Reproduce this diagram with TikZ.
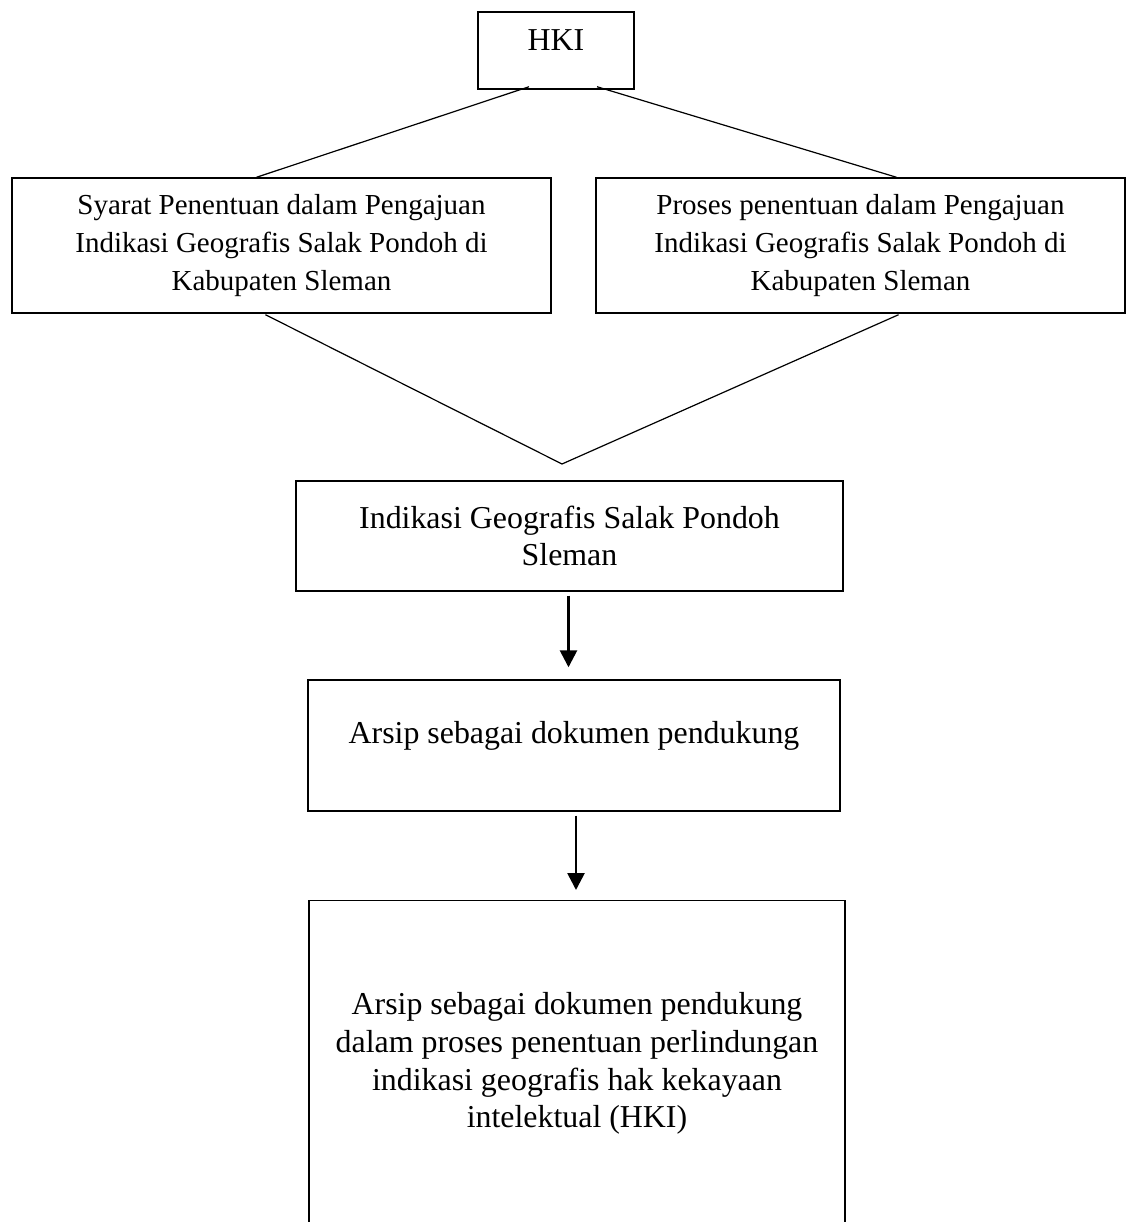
\documentclass[tikz,border=0pt]{standalone}
\usepackage{fontspec}
\setmainfont{Liberation Serif}
\usetikzlibrary{calc,arrows.meta}
\newcommand{\px}{0.414pt}
\tikzset{
  box/.style={draw, line width=0.6pt, inner sep=0pt, align=center},
  smalltext/.style={font=\fontsize{12}{15.6}\selectfont},
  bigtext/.style={font=\fontsize{13.2}{15.6}\selectfont},
  link/.style={line width=0.5pt},
  flow/.style={-{Triangle[length=7pt,width=7pt]}, line width=1.1pt}
}
\begin{document}
\begin{tikzpicture}[x=\px,y=-\px]
\useasboundingbox (0,0) rectangle (1126,1222);
\clip (0,0) rectangle (1126,1222);

\node[box, bigtext, minimum width=156*\px, text height=39*\px, text depth=38*\px] (hki) at (556,50.5) {HKI};

\node[box, smalltext, minimum width=539*\px, minimum height=135*\px] (syarat) at (281.5,245.5) {Syarat Penentuan dalam Pengajuan\\Indikasi Geografis Salak Pondoh di\\Kabupaten Sleman};
\node[box, smalltext, minimum width=529*\px, minimum height=135*\px] (proses) at (860.5,245.5) {Proses penentuan dalam Pengajuan\\Indikasi Geografis Salak Pondoh di\\Kabupaten Sleman};

\node[box, bigtext, minimum width=547*\px, minimum height=110*\px] (igs) at (569.5,536) {Indikasi Geografis Salak Pondoh\\Sleman};
\node[box, bigtext, minimum width=532*\px, text height=63*\px, text depth=68*\px] (arsip) at (574,745.5) {Arsip sebagai dokumen pendukung};
\node[box, bigtext, minimum width=536*\px, minimum height=326*\px, anchor=north] (final) at (577,900) {Arsip sebagai dokumen pendukung\\dalam proses penentuan perlindungan\\indikasi geografis hak kekayaan\\intelektual (HKI)};

\draw[link] ($(hki.south)+(-27,-3)$) -- ($(syarat.north)+(-25,0)$);
\draw[link] ($(hki.south)+(41,-3)$) -- ($(proses.north)+(36,0)$);

\coordinate (meet) at (562,464);
\draw[link] ($(syarat.south)+(-16,1)$) -- (meet) -- ($(proses.south)+(38,1)$);

\draw[flow] ($(igs.south)+(-1,4)$) -- ($(igs.south |- arsip.north)+(-1,-12)$);
\draw[flow] ($(arsip.south)+(2,4)$) -- ($(arsip.south |- final.north)+(2,-10)$);
\end{tikzpicture}
\end{document}
